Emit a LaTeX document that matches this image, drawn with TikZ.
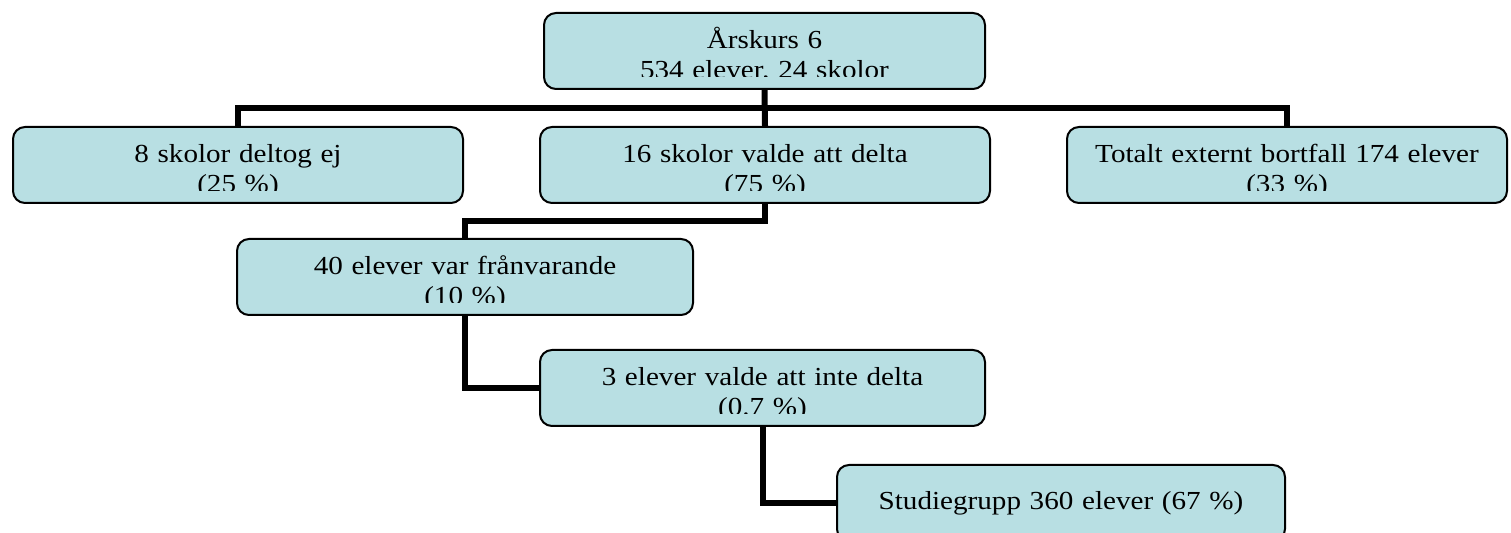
\documentclass[tikz,border=0pt]{standalone}
\usepackage{fontspec}
\setmainfont{Liberation Serif}[FakeStretch=1.12]
\usetikzlibrary{positioning}
\definecolor{boxblue}{RGB}{184,223,227}

\begin{document}
\begin{tikzpicture}[x=0.5pt,y=-0.5pt,
		orgbox/.style={draw=black,line width=1pt,fill=boxblue,rounded corners=6pt,minimum height=38pt,inner sep=0pt},
		boxtext/.style={font=\fontsize{13}{15}\selectfont,text width=220pt,align=center,inner sep=0pt},
		link/.style={line width=3pt}]
		\useasboundingbox (0,0) rectangle (1511,533);
		% boxes
		\node[orgbox,minimum width=220.5pt] (top) at (764.5,51) {};
		\node[orgbox,minimum width=225pt] (none) at (238,165) {};
		\node[orgbox,minimum width=225pt] (part) at (765,165) {};
		\node[orgbox,minimum width=220pt] (loss) at (1287,165) {};
		\node[orgbox,minimum width=228pt] (absent) at (465,277) {};
		\node[orgbox,minimum width=222.5pt] (optout) at (762.5,388) {};
		\node[orgbox,minimum width=224pt] (study) at (1061,503) {};
		% texts, cut off at the bottom
		\foreach \n/\d/\t in {top/18.5/{Årskurs 6\\534 elever, 24 skolor},
				none/18.5/{8 skolor deltog ej\\(25 \%)},
				part/18.5/{16 skolor valde att delta\\(75 \%)},
				loss/18.5/{Totalt externt bortfall 174 elever\\(33 \%)},
				absent/18.5/{40 elever var frånvarande\\(10 \%)},
				optout/18.5/{3 elever valde att inte delta\\(0.7 \%)},
				study/23/{Studiegrupp 360 elever (67 \%)}} {
			\begin{scope}
				\clip (\n.north west) rectangle ([yshift=6.5pt]\n.south east);
				\node[boxtext,anchor=base] (\n-txt) at ([yshift=-\d pt]\n.north) {\t};
			\end{scope}
		}
		% connectors
		\coordinate (bus) at (765,108);
		\draw[link] (top.south) -- (part.north);
		\draw[link] (none.north) |- (bus) -| (loss.north);
		\draw[link] (part.south) -- ++(0,17) -| (absent.north);
		\draw[link] (absent.south) |- (optout.west);
		\draw[link] (optout.south) |- (study.west);
\end{tikzpicture}
\end{document}
